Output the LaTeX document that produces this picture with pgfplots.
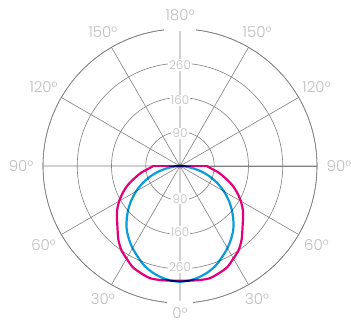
\documentclass[border=0pt]{standalone}
\usepackage{pgfplots}
\pgfplotsset{compat=1.18}
\usepgfplotslibrary{polar}
\usepackage{fontspec}
\setmainfont{Poppins}[UprightFont={* Light}]
\definecolor{gridc}{HTML}{808080}
\definecolor{lblc}{HTML}{BEBEBE}
\definecolor{magc}{HTML}{E2007A}
\definecolor{bluc}{HTML}{0A9BDB}
\tikzset{rl/.style={fill=white, inner sep=1.2pt, text=lblc, font=\fontsize{12}{12}\selectfont},
         al/.style={text=lblc, inner sep=0pt, font=\fontsize{15}{15}\selectfont}}
\begin{document}
\begin{tikzpicture}
\begin{polaraxis}[
  scale only axis, width=274pt, height=274pt,
  ymin=0, ymax=4, ytick={1,2,3,4}, yticklabels={},
  xtick={0,30,...,330}, xticklabels={},
  major tick length=0pt,
  xmajorgrids, ymajorgrids,
  major grid style={draw=gridc, line width=0.6pt},
  axis line style={draw=gridc, line width=0.6pt},
  clip=false,
]
\coordinate (c) at (axis cs:0,0);
% radial labels
\node[rl] at (axis cs:90,0.96) {90};
\node[rl] at (axis cs:90,1.92) {160};
\node[rl] at (axis cs:90,2.95) {260};
\node[rl] at (axis cs:270,0.96) {90};
\node[rl] at (axis cs:270,1.92) {160};
\node[rl] at (axis cs:270,2.95) {260};
% gaps in outer circle
\node[fill=white, minimum width=32pt, minimum height=5pt, inner sep=0pt] at (axis cs:90,4.02) {};
\node[fill=white, minimum width=26pt, minimum height=5pt, inner sep=0pt] at (axis cs:270,4.02) {};
% angle labels
\node[al] at (axis cs:90,4.41) {180°};
\node[al] at (axis cs:60,4.5) {150°};
\node[al] at (axis cs:120,4.5) {150°};
\node[al] at (axis cs:30,4.6) {120°};
\node[al] at (axis cs:150,4.6) {120°};
\node[al] at (axis cs:0,4.64) {90°};
\node[al] at (axis cs:180,4.64) {90°};
\node[al] at (axis cs:-30,4.6) {60°};
\node[al] at (axis cs:210,4.6) {60°};
\node[al] at (axis cs:-60,4.5) {30°};
\node[al] at (axis cs:240,4.5) {30°};
\node[al] at (axis cs:270,4.3) {0°};
\addplot[draw=magc, line width=2.2pt, line join=round] coordinates {(-180,0) (-180,0.78)};
\addplot[draw=magc, line width=2.2pt, line join=round] coordinates {(0,0) (0,0.78)};
\addplot[draw=magc, line width=2.2pt, line join=round, smooth, tension=0.45] coordinates {
 (0,0.78) (-5,0.93) (-10,1.16) (-15,1.37) (-20,1.62) (-25,1.84) (-30,2.05) (-35,2.24) (-40,2.40) (-45,2.58) (-50,2.80) (-55,2.99) (-60,3.12) (-65,3.26) (-70,3.33) (-75,3.39) (-80,3.38) (-85,3.36) (-90,3.35)
 (-95,3.36) (-100,3.38) (-105,3.39) (-110,3.33) (-115,3.26) (-120,3.12) (-125,2.99) (-130,2.80) (-135,2.58) (-140,2.40) (-145,2.24) (-150,2.05) (-155,1.84) (-160,1.62) (-165,1.37) (-170,1.16) (-175,0.93) (-180,0.78)
};
\addplot[draw=bluc, line width=2.2pt, line join=round, smooth, blend mode=multiply] coordinates {
 (0,0) (-5,0.15) (-10,0.40) (-15,0.68) (-20,0.95) (-25,1.22) (-30,1.48) (-35,1.73) (-40,1.97) (-45,2.20) (-50,2.42) (-55,2.60) (-60,2.77) (-65,2.92) (-70,3.08) (-75,3.20) (-80,3.29) (-85,3.35) (-90,3.38)
 (-95,3.35) (-100,3.29) (-105,3.20) (-110,3.08) (-115,2.92) (-120,2.77) (-125,2.60) (-130,2.42) (-135,2.20) (-140,1.97) (-145,1.73) (-150,1.48) (-155,1.22) (-160,0.95) (-165,0.68) (-170,0.40) (-175,0.15) (-180,0)
};
\end{polaraxis}
\pgfresetboundingbox
\path[use as bounding box] (c) ++(-180pt,-158pt) rectangle ++(351pt,324pt);
\end{tikzpicture}
\end{document}
